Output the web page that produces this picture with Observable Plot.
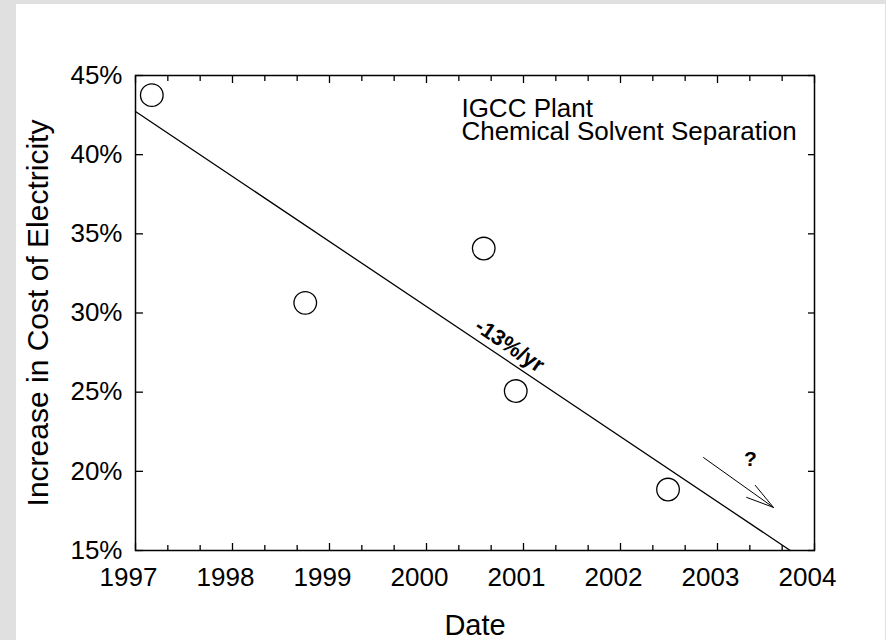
<!DOCTYPE html>
<html>
<head>
<meta charset="utf-8">
<script src="https://cdn.jsdelivr.net/npm/d3@7"></script>
<script src="https://cdn.jsdelivr.net/npm/@observablehq/plot@0.6"></script>
<style>
  html, body { margin: 0; padding: 0; background: #e0e0e0; width: 886px; height: 640px; overflow: hidden; }
  #panel { position: absolute; left: 16px; top: 4px; width: 869px; height: 636px; background: #ffffff; }
</style>
</head>
<body>
<div id="panel"></div>
<script>
// Observed data points
const pointYears = [1997.168, 1998.75, 2000.59, 2000.92, 2002.49];
const pointValues = [43.76, 30.64, 34.07, 25.07, 18.85];

// Trend line (-13%/yr)
const trendYears = [1997, 2003.75];
const trendValues = [42.73, 15];

// Arrow "?"
const arrowYears = [2002.856, 2003.577];
const arrowValues = [20.87, 17.72];
const questionYear = [2003.34];
const questionValue = [20.75];

// Slope label
const slopeLabel = ["-13%/yr"];
const slopeYear = [2000.856];
const slopeValue = [27.95];

// Annotation (two lines)
const noteLines = ["IGCC Plant", "Chemical Solvent Separation"];
const noteYear = [2000.36, 2000.36];
const noteValues = [43.57, 42.07];

// Ticks
const xTickYears = [1997, 1998, 1999, 2000, 2001, 2002, 2003, 2004];
const yTickValues = [15, 20, 25, 30, 35, 40, 45];
const xMinorTicks = d3.range(0, 22).map(i => 1997 + i / 3).filter((v, i) => i % 3 !== 0);

const xTitle = "Date";
const yTitle = "Increase in Cost of Electricity";

const font = "'Liberation Sans', Arial, Helvetica, sans-serif";

const chart = Plot.plot({
  width: 869,
  height: 636,
  marginLeft: 119,
  marginRight: 71,
  marginTop: 71,
  marginBottom: 90,
  style: { fontFamily: font, background: "white", color: "black" },
  x: { domain: [1997, 2004], type: "linear" },
  y: { domain: [15, 45], type: "linear" },
  marks: [
    // tick labels
    Plot.axisX({ anchor: "bottom", ticks: xTickYears, tickSize: 0, tickPadding: 17, dx: -7, tickFormat: d => String(d), fontSize: 26, label: null }),
    Plot.axisY({ anchor: "left", ticks: yTickValues, tickSize: 0, tickPadding: 13, tickFormat: d => d + "%", fontSize: 26, label: null }),
    // inward ticks
    Plot.axisX({ anchor: "bottom", ticks: xTickYears, tickSize: -7, tickFormat: () => "", label: null, strokeWidth: 1.3 }),
    Plot.axisX({ anchor: "bottom", ticks: xMinorTicks, tickSize: -5, tickFormat: () => "", label: null, strokeWidth: 1.3 }),
    Plot.axisX({ anchor: "top", ticks: xTickYears, tickSize: -7, tickFormat: () => "", label: null, strokeWidth: 1.3 }),
    Plot.axisX({ anchor: "top", ticks: xMinorTicks, tickSize: -5, tickFormat: () => "", label: null, strokeWidth: 1.3 }),
    Plot.axisY({ anchor: "left", ticks: yTickValues, tickSize: -8, tickFormat: () => "", label: null, strokeWidth: 1.3 }),
    Plot.axisY({ anchor: "right", ticks: yTickValues, tickSize: -7, tickFormat: () => "", label: null, strokeWidth: 1.3 }),
    Plot.frame({ stroke: "black", strokeWidth: 1.5 }),
    // axis titles
    Plot.text([xTitle], { frameAnchor: "bottom", text: d => d, dy: 75, lineAnchor: "middle", fontSize: 29, fill: "black" }),
    Plot.text([yTitle], { frameAnchor: "left", text: d => d, dx: -97, rotate: -90, lineAnchor: "middle", textAnchor: "middle", fontSize: 30, fill: "black" }),
    // trend line
    Plot.line(trendYears.map((x, i) => ({ x, y: trendValues[i] })), { x: "x", y: "y", stroke: "black", strokeWidth: 1.3 }),
    // data points
    Plot.dot(pointYears.map((x, i) => ({ x, y: pointValues[i] })), { x: "x", y: "y", r: 11.3, stroke: "black", strokeWidth: 1.3, fill: "none" }),
    // slope label
    Plot.text(slopeLabel.map((t, i) => ({ t, x: slopeYear[i], y: slopeValue[i] })), { x: "x", y: "y", text: "t", rotate: 34, fontSize: 22, fontWeight: "bold", fill: "black", textAnchor: "middle", lineAnchor: "middle" }),
    // arrow and question mark
    Plot.arrow([{ x1: arrowYears[0], y1: arrowValues[0], x2: arrowYears[1], y2: arrowValues[1] }], { x1: "x1", y1: "y1", x2: "x2", y2: "y2", stroke: "black", strokeWidth: 1, headAngle: 30, headLength: 50 }),
    Plot.text(questionYear.map((x, i) => ({ x, y: questionValue[i] })), { x: "x", y: "y", text: () => "?", fontSize: 21, fontWeight: "bold", fill: "black", textAnchor: "middle", lineAnchor: "middle" }),
    // annotation
    Plot.text(noteLines.map((t, i) => ({ t, x: noteYear[i], y: noteValues[i] })), { x: "x", y: "y", text: "t", fontSize: 26, textAnchor: "start", lineAnchor: "top", fill: "black" })
  ]
});

document.getElementById("panel").appendChild(chart);
</script>
</body>
</html>
